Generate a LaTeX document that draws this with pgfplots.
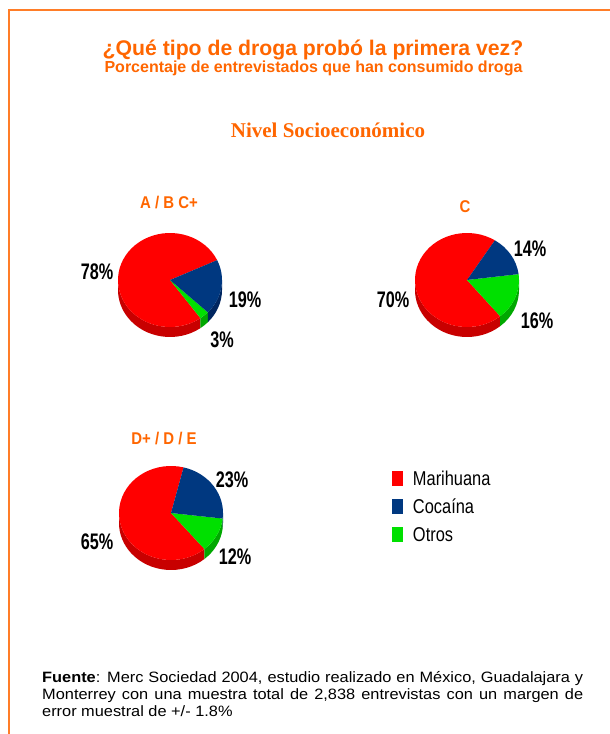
\documentclass[border=0pt]{standalone}
\usepackage{fontspec}
\setmainfont{Liberation Sans}
\newfontfamily\seriffont{Liberation Serif}
\newfontfamily\lblfamily{Liberation Sans}[FakeStretch=0.72]
\newfontfamily\ttlfamily{Liberation Sans}[FakeStretch=0.88]
\newfontfamily\legfamily{Liberation Sans}[FakeStretch=0.82]
\newfontfamily\footfamily{Liberation Sans}[FakeStretch=1.09]
\usepackage{pgfplots}
\pgfplotsset{compat=1.18}

\definecolor{orng}{RGB}{255,102,0}
\definecolor{frame}{RGB}{255,125,40}
\definecolor{mred}{RGB}{255,0,0}
\definecolor{mredD}{RGB}{200,0,0}
\definecolor{mblue}{RGB}{0,56,128}
\definecolor{mblueD}{RGB}{0,38,96}
\definecolor{mgreen}{RGB}{0,224,0}
\definecolor{mgreenD}{RGB}{0,168,0}

\def\rx{52}\def\ry{47}\def\dd{10}

% side band of a slice (visible lower half only)
\newcommand{\sideband}[3]{%
  \pgfmathsetmacro\lo{max(#1,-180)}%
  \pgfmathsetmacro\hi{min(#2,0)}%
  \pgfmathtruncatemacro\ok{(\hi>\lo)?1:0}%
  \ifnum\ok=1
    \fill[#3] (axis cs:{\rx*cos(\lo)},{\ry*sin(\lo)})
      arc[start angle=\lo, end angle=\hi, x radius=\rx bp, y radius=\ry bp]
      -- (axis cs:{\rx*cos(\hi)},{\ry*sin(\hi)-\dd})
      arc[start angle=\hi, end angle=\lo, x radius=\rx bp, y radius=\ry bp]
      -- cycle;
  \fi
}
\newcommand{\topslice}[3]{%
  \fill[#3] (axis cs:0,0) -- (axis cs:{\rx*cos(#1)},{\ry*sin(#1)})
    arc[start angle=#1, end angle=#2, x radius=\rx bp, y radius=\ry bp] -- cycle;
}
% #1 start angle (slices run clockwise), #2 Cocaina, #3 Otros, #4 Marihuana (percent)
\newcommand{\drawpie}[4]{%
  \pgfmathsetmacro\aC{#1-3.6*#2}%
  \pgfmathsetmacro\aO{\aC-3.6*#3}%
  \pgfmathsetmacro\aM{\aO-3.6*#4}%
  \sideband{\aM}{\aO}{mredD}%
  \sideband{\aO}{\aC}{mgreenD}%
  \sideband{\aC}{#1}{mblueD}%
  \topslice{\aM}{\aO}{mred}%
  \topslice{\aO}{\aC}{mgreen}%
  \topslice{\aC}{#1}{mblue}%
}

\pgfplotsset{pieaxis/.style={hide axis, clip=false, x=1bp, y=1bp,
  xmin=-80, xmax=80, ymin=-70, ymax=70, anchor=center}}
\tikzset{
  lbl/.style={inner sep=0pt, font=\lblfamily\bfseries\fontsize{22.5bp}{24bp}\selectfont},
  ttl/.style={inner sep=0pt, text=orng, font=\ttlfamily\bfseries\fontsize{17bp}{19bp}\selectfont}
}

\begin{document}
\begin{tikzpicture}
\path[use as bounding box] (0bp,0bp) rectangle (610bp,734bp);
\fill[white] (0bp,0bp) rectangle (610bp,734bp);
\draw[frame, line width=2bp] (9bp,0bp) -- (9bp,724bp) -- (610bp,724bp);

\node[anchor=base, inner sep=0pt, text=orng, font=\bfseries\fontsize{21.2bp}{24bp}\selectfont]
  at (313bp,678bp) {¿Qué tipo de droga probó la primera vez?};
\node[anchor=base, inner sep=0pt, text=orng, font=\bfseries\fontsize{16bp}{18bp}\selectfont]
  at (313.5bp,661bp) {Porcentaje de entrevistados que han consumido droga};
\node[anchor=base, inner sep=0pt, text=orng, font=\seriffont\bfseries\fontsize{21bp}{25bp}\selectfont]
  at (328bp,596bp) {Nivel Socioeconómico};

% A / B C+
\begin{axis}[pieaxis, at={(170bp,454bp)}]
  \pgfplotsextra{\drawpie{25}{19}{3}{78}}
  \node[lbl] at (axis cs:-73,8) {78\%};
  \node[lbl] at (axis cs:75,-20) {19\%};
  \node[lbl] at (axis cs:52,-60) {3\%};
  \node[ttl] at (axis cs:-1,77) {A / B C+};
\end{axis}

% C
\begin{axis}[pieaxis, at={(467bp,454bp)}]
  \pgfplotsextra{\drawpie{57.6}{14}{16}{70}}
  \node[lbl] at (axis cs:63,31) {14\%};
  \node[lbl] at (axis cs:-74,-20) {70\%};
  \node[lbl] at (axis cs:70,-41) {16\%};
  \node[ttl] at (axis cs:-2,73) {C};
\end{axis}

% D+ / D / E
\begin{axis}[pieaxis, at={(171bp,221bp)},
  legend image code/.code={\fill[#1] (0bp,-7.5bp) rectangle (11bp,7.5bp);},
  legend cell align=left,
  legend style={at={(axis cs:221,48)}, anchor=north west, draw=none, fill=none,
    inner sep=0pt, outer sep=0pt, row sep=0pt,
    font=\legfamily\fontsize{20bp}{22bp}\selectfont,
    nodes={inner sep=0pt, text height=21bp, text depth=7bp},
    /tikz/every odd column/.style={column sep=10bp}}]
  \pgfplotsextra{\drawpie{76}{23}{12}{65}}
  \node[lbl] at (axis cs:61,33) {23\%};
  \node[lbl] at (axis cs:-74,-29) {65\%};
  \node[lbl] at (axis cs:64,-44) {12\%};
  \node[ttl] at (axis cs:-7,74) {D+ / D / E};
  \addlegendimage{fill=mred, draw=none}
  \addlegendentry{Marihuana}
  \addlegendimage{fill=mblue, draw=none}
  \addlegendentry{Cocaína}
  \addlegendimage{fill=mgreen, draw=none}
  \addlegendentry{Otros}
\end{axis}

\node[anchor=base west, inner sep=0pt, text width=541bp, align=justify,
  font=\footfamily\fontsize{15bp}{16.7bp}\selectfont] at (42bp,51bp)
  {\textbf{Fuente}: Merc Sociedad 2004, estudio realizado en México, Guadalajara y\linebreak
   Monterrey con una muestra total de 2,838 entrevistas con un margen de\linebreak
   error muestral de +/- 1.8\%};
\end{tikzpicture}
\end{document}
